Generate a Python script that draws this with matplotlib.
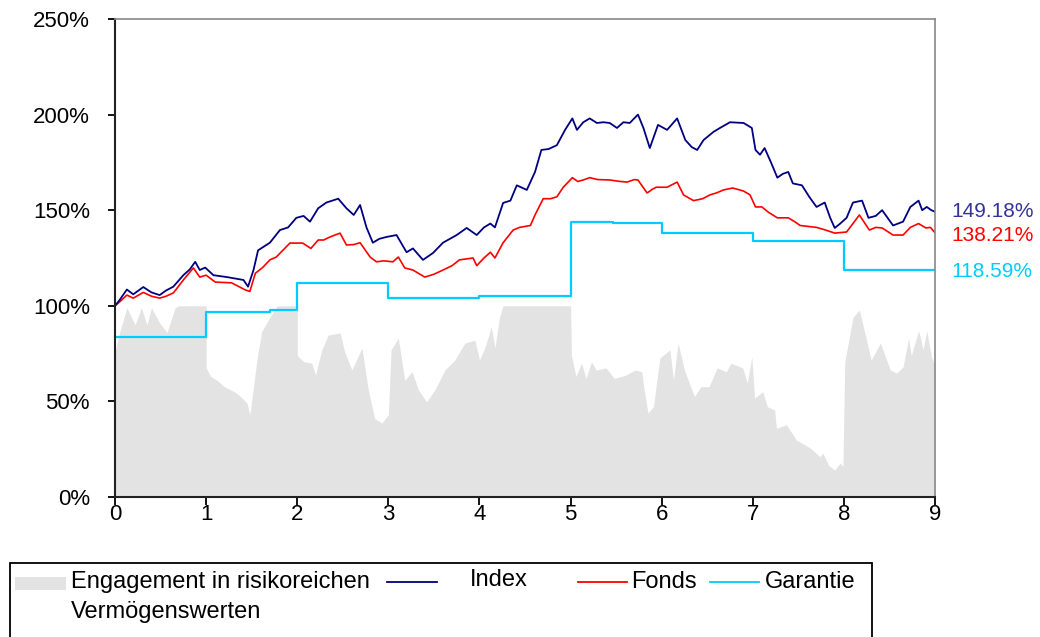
import matplotlib.pyplot as plt
from matplotlib.patches import Rectangle
from matplotlib.lines import Line2D

plt.rcParams['font.family'] = ['Liberation Sans', 'DejaVu Sans']

# Index (x in years, value in %)
index_x = [0.00, 0.05, 0.13, 0.20, 0.31, 0.40, 0.49, 0.56, 0.64, 0.75, 0.82, 0.88, 0.93, 0.99,
           1.08, 1.23, 1.35, 1.41, 1.46, 1.52, 1.57, 1.70, 1.81, 1.90, 1.99, 2.07, 2.14, 2.23,
           2.32, 2.45, 2.54, 2.62, 2.69, 2.76, 2.83, 2.90, 2.98, 3.09, 3.20, 3.27, 3.38, 3.49,
           3.60, 3.75, 3.86, 3.97, 4.05, 4.12, 4.17, 4.26, 4.34, 4.41, 4.52, 4.61, 4.68, 4.76,
           4.85, 4.94, 5.02, 5.07, 5.14, 5.21, 5.29, 5.36, 5.43, 5.51, 5.58, 5.65, 5.74, 5.80,
           5.87, 5.96, 6.06, 6.17, 6.26, 6.33, 6.39, 6.46, 6.57, 6.64, 6.75, 6.90, 6.99, 7.03,
           7.08, 7.13, 7.20, 7.27, 7.33, 7.39, 7.44, 7.54, 7.62, 7.70, 7.79, 7.85, 7.90, 7.96,
           8.03, 8.10, 8.20, 8.27, 8.35, 8.42, 8.54, 8.65, 8.73, 8.82, 8.86, 8.91, 8.96, 9.00]
index_y = [100, 103, 108.5, 106, 109.8, 107, 105.6, 108, 110, 116, 119, 123, 118.7, 120,
           116, 115, 114, 113.5, 110, 118.7, 129, 133, 139.6, 141, 146, 147, 144, 151,
           154, 156, 151, 147.5, 152.7, 141, 133, 135, 136, 137, 128, 130, 124, 127.6,
           133, 137, 140.7, 137, 141, 143, 141, 153.8, 155, 163, 160.6, 170, 181.5, 182,
           184, 192, 198, 192, 196, 198, 195.6, 196, 195.6, 193, 196, 195.6, 200, 193,
           182.5, 194.6, 192, 198, 186.7, 183, 181.5, 186.7, 191, 193, 196, 195.6, 193, 181.5,
           179, 182.5, 175, 167, 169, 170, 164, 163, 157, 151.7, 154, 146, 140.7, 143,
           146, 154, 155, 146, 147, 150, 142, 144, 151.7, 155, 150, 151.7, 150, 149.18]

# Fonds
fonds_x = [0.00, 0.05, 0.13, 0.20, 0.31, 0.40, 0.49, 0.56, 0.64, 0.75, 0.86, 0.93, 1.00, 1.10,
           1.28, 1.43, 1.48, 1.54, 1.62, 1.70, 1.77, 1.92, 2.06, 2.15, 2.23, 2.29, 2.36, 2.47,
           2.54, 2.62, 2.69, 2.80, 2.87, 2.95, 3.05, 3.11, 3.18, 3.27, 3.40, 3.50, 3.60, 3.70,
           3.78, 3.93, 3.97, 4.05, 4.12, 4.17, 4.26, 4.37, 4.44, 4.50, 4.56, 4.61, 4.70, 4.78,
           4.85, 4.92, 5.02, 5.08, 5.14, 5.21, 5.30, 5.43, 5.55, 5.62, 5.70, 5.74, 5.84, 5.90,
           5.94, 6.06, 6.17, 6.24, 6.35, 6.45, 6.53, 6.60, 6.68, 6.78, 6.90, 6.97, 7.03, 7.10,
           7.17, 7.27, 7.39, 7.46, 7.52, 7.70, 7.80, 7.90, 8.03, 8.10, 8.17, 8.28, 8.35, 8.42,
           8.54, 8.65, 8.73, 8.82, 8.90, 8.95, 9.00]
fonds_y = [100, 102, 105.6, 104, 107, 105, 104, 105, 106.7, 113.5, 119.8, 115, 116, 112.4,
           112, 108.3, 107.5, 117, 120, 124, 125.5, 132.8, 132.8, 130, 134.4, 134.4, 136, 138,
           131.8, 132, 133, 125.5, 123, 123.5, 123, 125.5, 119.8, 118.7, 115, 116.5, 118.7, 121,
           124, 125, 121, 125, 128, 125, 133, 139.6, 141, 141.5, 142, 147.5, 156, 156,
           157, 162, 167, 165, 165.8, 167, 166, 165.8, 165, 164.7, 166, 165.8, 159, 161,
           162, 162, 164.7, 158, 155, 156, 158, 159, 160.6, 161.6, 160, 158, 151.7, 151.7,
           149, 146, 146, 144, 142, 141, 139.6, 138, 138.6, 143, 147.5, 139.6, 141, 140.7,
           137, 137, 141, 143, 140.7, 141, 138.21]

# Garantie (step values, valid from each x onward)
garantie_x = [0, 1, 1.7, 2, 3, 4, 5, 5.47, 6, 7, 8, 9]
garantie_y = [83.7, 97, 98, 112, 104, 105, 144, 143.3, 138, 134, 118.59, 118.59]

# Engagement in risikoreichen Vermögenswerten
eng_x = [0.00, 0.05, 0.13, 0.22, 0.29, 0.35, 0.40, 0.49, 0.57, 0.66, 0.70, 1.00, 1.00, 1.05,
         1.12, 1.20, 1.31, 1.38, 1.45, 1.48, 1.52, 1.56, 1.61, 1.70, 1.78, 2.00, 2.00, 2.07,
         2.16, 2.20, 2.27, 2.34, 2.47, 2.52, 2.60, 2.71, 2.78, 2.85, 2.93, 3.00, 3.03, 3.11,
         3.18, 3.26, 3.33, 3.42, 3.51, 3.62, 3.73, 3.84, 3.95, 4.00, 4.06, 4.13, 4.17, 4.22,
         4.26, 5.00, 5.01, 5.06, 5.12, 5.17, 5.23, 5.28, 5.39, 5.48, 5.61, 5.71, 5.78, 5.82,
         5.85, 5.91, 5.98, 6.09, 6.13, 6.18, 6.25, 6.36, 6.43, 6.52, 6.61, 6.71, 6.76, 6.89,
         6.94, 6.99, 7.02, 7.11, 7.16, 7.24, 7.26, 7.37, 7.48, 7.63, 7.74, 7.77, 7.83, 7.90,
         7.96, 7.99, 8.01, 8.05, 8.10, 8.17, 8.23, 8.30, 8.40, 8.51, 8.58, 8.65, 8.71, 8.74,
         8.82, 8.87, 8.91, 8.96, 9.00]
eng_y = [76, 86, 99, 90, 99, 90, 99, 91, 86, 99, 100, 100, 67.5, 63,
         61, 57.7, 55, 52.5, 49, 43, 57.7, 72.6, 86.5, 94, 100, 100, 74, 70.8,
         70, 63.8, 77, 84.7, 85.8, 76, 66.4, 78, 56, 41, 38.7, 43, 77, 83,
         61, 65.5, 56, 49.8, 56, 66.4, 71.6, 80.5, 82, 71.6, 78, 89, 78, 94,
         100, 100, 74, 63, 70, 62, 70.8, 66.4, 67.5, 62, 63.8, 66.4, 65.5, 52.5,
         43.9, 47.2, 72.7, 77, 61, 80.5, 66.4, 52.5, 57.7, 57.7, 67.5, 65.5, 70, 67.5,
         59.6, 73.4, 51.8, 55, 47.2, 45.5, 36, 37.7, 29.8, 25.6, 21, 23, 16.7, 14,
         17.8, 16, 70.8, 81, 94, 97.8, 85.8, 71.6, 80.5, 66.4, 64.8, 68, 83, 74,
         87, 77, 87, 73.4, 69]

end_labels = ['149.18%', '138.21%', '118.59%']
end_values = [149.18, 138.21, 118.59]
end_offsets = [0, -2, -1]

c_gray = '#e3e3e3'
c_index = '#000080'
c_fonds = '#ff0000'
c_gar = '#00ccff'

fig = plt.figure(figsize=(10.4, 6.37), dpi=100)
ax = fig.add_axes([0.1106, 0.2198, 0.7884, 0.7504])

ax.fill_between(eng_x, 0, eng_y, color=c_gray, lw=0)
ax.step(garantie_x, garantie_y, where='post', color=c_gar, lw=1.6)
ax.plot(fonds_x, fonds_y, color=c_fonds, lw=1.2)
ax.plot(index_x, index_y, color=c_index, lw=1.3)

label_colors = ['#333399', c_fonds, c_gar]
for lab, val, off, col in zip(end_labels, end_values, end_offsets, label_colors):
    ax.annotate(lab, xy=(9, val), xytext=(12, off), textcoords='offset points',
                va='center', ha='left', color=col, fontsize=15, annotation_clip=False)

ax.set_xlim(0, 9)
ax.set_ylim(0, 250)
ax.set_xticks(range(10))
ax.set_yticks([0, 50, 100, 150, 200, 250])
ax.set_yticklabels(['0%', '50%', '100%', '150%', '200%', '250%'])
ax.tick_params(axis='y', direction='out', length=5, width=1.3, pad=13, labelsize=16)
ax.tick_params(axis='x', direction='out', length=6, width=1.3, pad=-1, labelsize=16)

for s in ['left', 'bottom']:
    ax.spines[s].set_linewidth(1.5)
    ax.spines[s].set_color('#222222')
for s in ['top', 'right']:
    ax.spines[s].set_linewidth(1.2)
    ax.spines[s].set_color('#888888')

# legend box drawn by hand
fig.add_artist(Rectangle((0.0096, -0.05), 0.829, 0.166, transform=fig.transFigure,
                         facecolor='none', edgecolor='black', lw=1.3, clip_on=False))
fig.add_artist(Rectangle((0.014, 0.0735), 0.049, 0.021, transform=fig.transFigure,
                         facecolor=c_gray, edgecolor='none'))
fig.text(0.068, 0.086, 'Engagement in risikoreichen', fontsize=17, va='center')
fig.text(0.068, 0.039, 'Vermögenswerten', fontsize=17, va='center')
fig.add_artist(Line2D([0.372, 0.420], [0.086, 0.086], color=c_index, lw=1.3,
                      transform=fig.transFigure))
fig.text(0.452, 0.090, 'Index', fontsize=17, va='center')
fig.add_artist(Line2D([0.556, 0.603], [0.086, 0.086], color=c_fonds, lw=1.3,
                      transform=fig.transFigure))
fig.text(0.607, 0.086, 'Fonds', fontsize=17, va='center')
fig.add_artist(Line2D([0.683, 0.730], [0.086, 0.086], color=c_gar, lw=1.3,
                      transform=fig.transFigure))
fig.text(0.735, 0.086, 'Garantie', fontsize=17, va='center')

fig.savefig('out.png', dpi=100)
